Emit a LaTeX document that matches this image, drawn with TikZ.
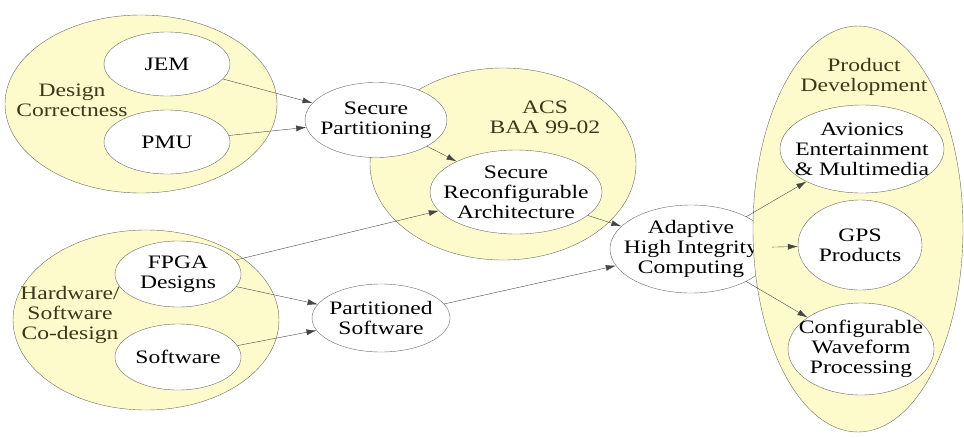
\documentclass[tikz,border=0pt]{standalone}
\usepackage{fontspec}
\setmainfont{Liberation Serif}[FakeStretch=1.24]
\usepackage{tikz}
\usetikzlibrary{arrows.meta,shapes.geometric}
\definecolor{paleyellow}{RGB}{253,251,204}
\definecolor{edgegrey}{RGB}{70,70,70}
\definecolor{labelbrown}{RGB}{60,55,25}

\begin{document}
\begin{tikzpicture}[
 x=1pt,y=-1pt,
 every node/.style={font=\fontsize{19}{20}\selectfont},
 group/.style={ellipse,draw=edgegrey!80,fill=paleyellow,inner sep=0pt},
 bubble/.style={ellipse,draw=edgegrey!80,fill=white,inner xsep=-22pt,inner ysep=-10pt,align=center},
 lbl/.style={align=center,text=labelbrown},
 arr/.style={-{Latex[length=10pt,width=6pt]},edgegrey}
]
\useasboundingbox (0,0) rectangle (964,437);
% design correctness
\node[group,minimum width=272pt,minimum height=178pt] (dc) at (141,104) {};
\node[lbl] (dclbl) at (72,100) {Design\\Correctness};
\node[bubble,minimum width=126pt,minimum height=64pt] (jem) at (167,64) {JEM};
\node[bubble,minimum width=126pt,minimum height=64pt] (pmu) at (167,142) {PMU};
% hardware/software co-design
\node[group,minimum width=266pt,minimum height=180pt] (hw) at (146,320) {};
\node[lbl] (hwlbl) at (70,315) {Hardware/\\Software\\Co-design};
\node[bubble,minimum width=126pt,minimum height=66pt] (fpga) at (178,274) {FPGA\\Designs};
\node[bubble,minimum width=126pt,minimum height=66pt] (sw) at (178,357) {Software};
% ACS
\node[group,minimum width=266pt,minimum height=192pt] (acs) at (503,164) {};
\node[lbl] (acslbl) at (545,117) {ACS\\BAA 99-02};
\node[bubble,minimum width=142pt,minimum height=75pt] (sp) at (376,120) {Secure\\Partitioning};
\node[bubble,minimum width=172pt,minimum height=84pt] (sra) at (516,192) {Secure\\Reconfigurable\\Architecture};
\node[bubble,minimum width=138pt,minimum height=68pt] (ps) at (381,318) {Partitioned\\Software};
\node[bubble,minimum width=162pt,minimum height=88pt] (ahic) at (691,249) {Adaptive\\High Integrity\\Computing};
% product development
\node[group,minimum width=210pt,minimum height=406pt] (pd) at (858,229) {};
\node[lbl] (pdlbl) at (864,77) {Product\\Development};
\node[bubble,minimum width=164pt,minimum height=88pt] (avi) at (862,149) {Avionics\\Entertainment\\\& Multimedia};
\node[bubble,minimum width=124pt,minimum height=90pt] (gps) at (860,245) {GPS\\Products};
\node[bubble,minimum width=146pt,minimum height=92pt] (cwp) at (861,349) {Configurable\\Waveform\\Processing};
% edges
\draw[arr] (jem)--(sp);\draw[arr] (pmu)--(sp);\draw[arr] (sp)--(sra);
\draw[arr] (fpga)--(sra);\draw[arr] (fpga)--(ps);\draw[arr] (sw)--(ps);
\draw[arr] (sra)--(ahic);\draw[arr] (ps)--(ahic);
\draw[arr] (ahic)--(avi);\draw[arr] (ahic)--(gps);\draw[arr] (ahic)--(cwp);
\end{tikzpicture}
\end{document}
